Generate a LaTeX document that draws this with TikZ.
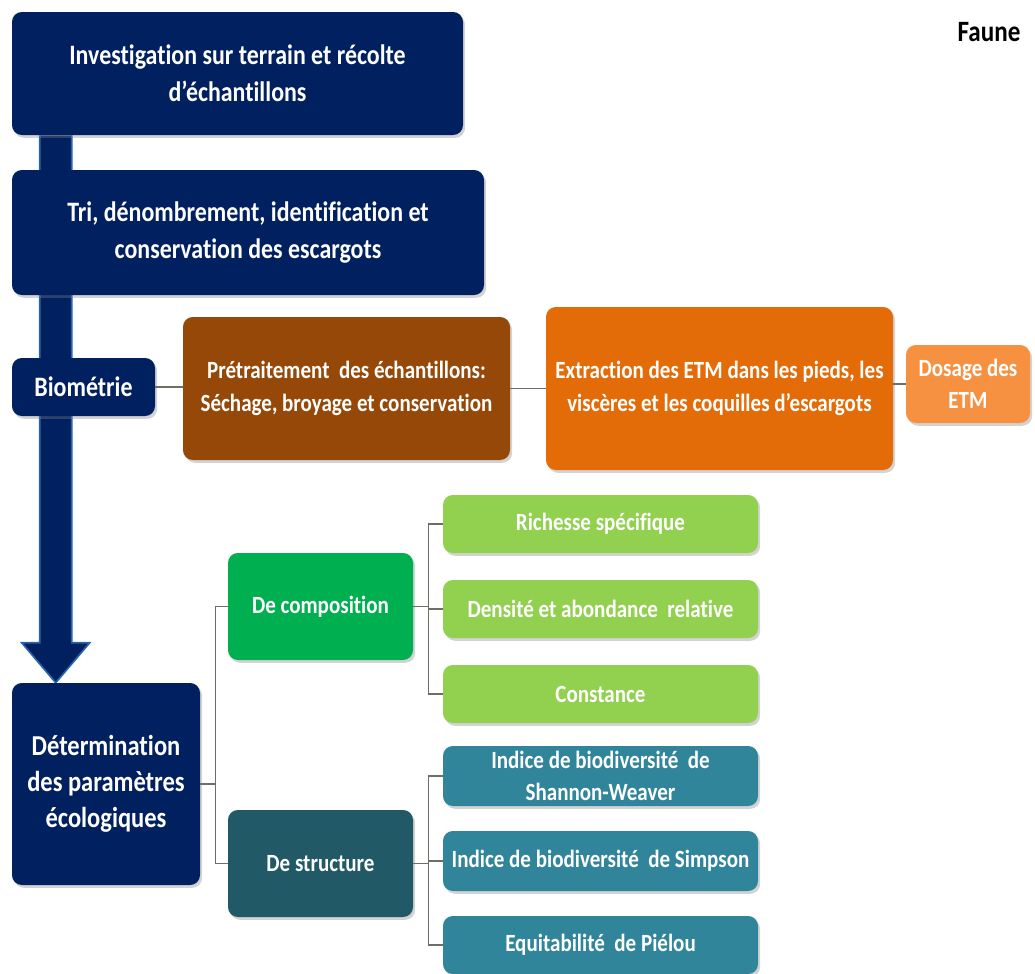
\documentclass[tikz,border=0pt]{standalone}
\usepackage{fontspec}
\setmainfont{Carlito}[FakeStretch=0.85, Ligatures=NoCommon]
\usetikzlibrary{shadows,backgrounds,calc}
\newcommand{\pxu}{0.025cm}
\definecolor{navy}{RGB}{0,32,96}
\definecolor{arrowblue}{RGB}{40,100,170}
\definecolor{brownbox}{RGB}{150,72,8}
\definecolor{orangebox}{RGB}{227,108,9}
\definecolor{lightorange}{RGB}{245,145,65}
\definecolor{greenbox}{RGB}{0,176,80}
\definecolor{lightgreen}{RGB}{146,208,80}
\definecolor{tealdark}{RGB}{33,89,103}
\definecolor{tealbox}{RGB}{49,133,155}
\definecolor{linkgray}{RGB}{110,110,100}
\begin{document}
\begin{tikzpicture}[x=0.025cm, y=-0.025cm,
  box/.style 2 args={rounded corners=7pt, text=white, align=center, inner sep=0pt, minimum width=#1*\pxu, minimum height=#2*\pxu, drop shadow={shadow xshift=1.5pt, shadow yshift=-2pt, opacity=0.35}},
  big/.style={font=\bfseries\fontsize{20}{26}\selectfont},
  mid/.style={font=\bfseries\fontsize{17.6}{23}\selectfont},
  link/.style={draw=linkgray, line width=0.8pt}
]
\useasboundingbox (0,0) rectangle (1035,974);

\node[box={451}{123}, big, fill=navy] (inv) at (237.5,73.5) {Investigation sur terrain et récolte\\d’échantillons};
\node[box={472}{125}, big, fill=navy] (tri) at (248,232.5) {Tri, dénombrement, identification et\\conservation des escargots};
\node[box={143}{58}, big, fill=navy] (bio) at (83.5,387) {Biométrie};
\node[box={327}{143}, mid, fill=brownbox] (pre) at (346.5,388.5) {Prétraitement~ des échantillons:\\Séchage, broyage et conservation};
\node[box={347}{163}, mid, fill=orangebox] (ext) at (719.5,388.5) {Extraction des ETM dans les pieds, les\\viscères et les coquilles d’escargots};
\node[box={124}{78}, mid, fill=lightorange] (dos) at (968,384) {Dosage des\\ETM};
\node[font=\bfseries\fontsize{21}{22}\selectfont] (faune) at (989,32) {Faune};

\node[box={188}{202}, font=\bfseries\fontsize{20.5}{25.5}\selectfont, fill=navy] (det) at (106,784) {Détermination\\des paramètres\\écologiques};
\node[box={185}{107}, mid, fill=greenbox] (comp) at (320.5,606.5) {De composition};
\node[box={185}{107}, mid, fill=tealdark] (struc) at (320.5,863.5) {De structure};

\node[box={315}{58}, mid, fill=lightgreen] (rich) at (600.5,524) {Richesse spécifique};
\node[box={315}{58}, mid, fill=lightgreen] (dens) at (600.5,609) {Densité et abondance~ relative};
\node[box={315}{58}, mid, fill=lightgreen] (const) at (600.5,694) {Constance};
\node[box={315}{60}, mid, fill=tealbox] (shan) at (600.5,776) {Indice de biodiversité~ de\\Shannon-Weaver};
\node[box={315}{60}, mid, fill=tealbox] (simp) at (600.5,861) {Indice de biodiversité~ de Simpson};
\node[box={315}{58}, mid, fill=tealbox] (piel) at (600.5,945) {Equitabilité~ de Piélou};

% big arrow down the left side
\begin{scope}[on background layer]
\coordinate (atop) at ($(inv.south west)+(44,0)$);
\coordinate (abot) at ($(det.north west)+(44,0)$);
\filldraw[fill=navy, draw=arrowblue, line width=1.2pt] ($(atop)+(-16,0)$) -- ($(abot)+(-16,-40)$) -- ($(abot)+(-34,-40)$) -- (abot) -- ($(abot)+(34,-40)$) -- ($(abot)+(16,-40)$) -- ($(atop)+(16,0)$);
\end{scope}

\draw[link] (bio.east) -- (bio.east -| pre.west);
\draw[link] (pre.east) -- (ext.west);
\draw[link] (dos.west -| ext.east) -- (dos.west);

\draw[link] (det.east) -- ++(15,0) coordinate (dj) |- (comp.west);
\draw[link] (dj) |- (struc.west);
\draw[link] (comp.east) -- ++(15,0) coordinate (cj) |- (rich.west);
\draw[link] (cj) |- (dens.west);
\draw[link] (cj) |- (const.west);
\draw[link] (struc.east) -- ++(15,0) coordinate (sj) |- (shan.west);
\draw[link] (sj) |- (simp.west);
\draw[link] (sj) |- (piel.west);
\end{tikzpicture}
\end{document}
